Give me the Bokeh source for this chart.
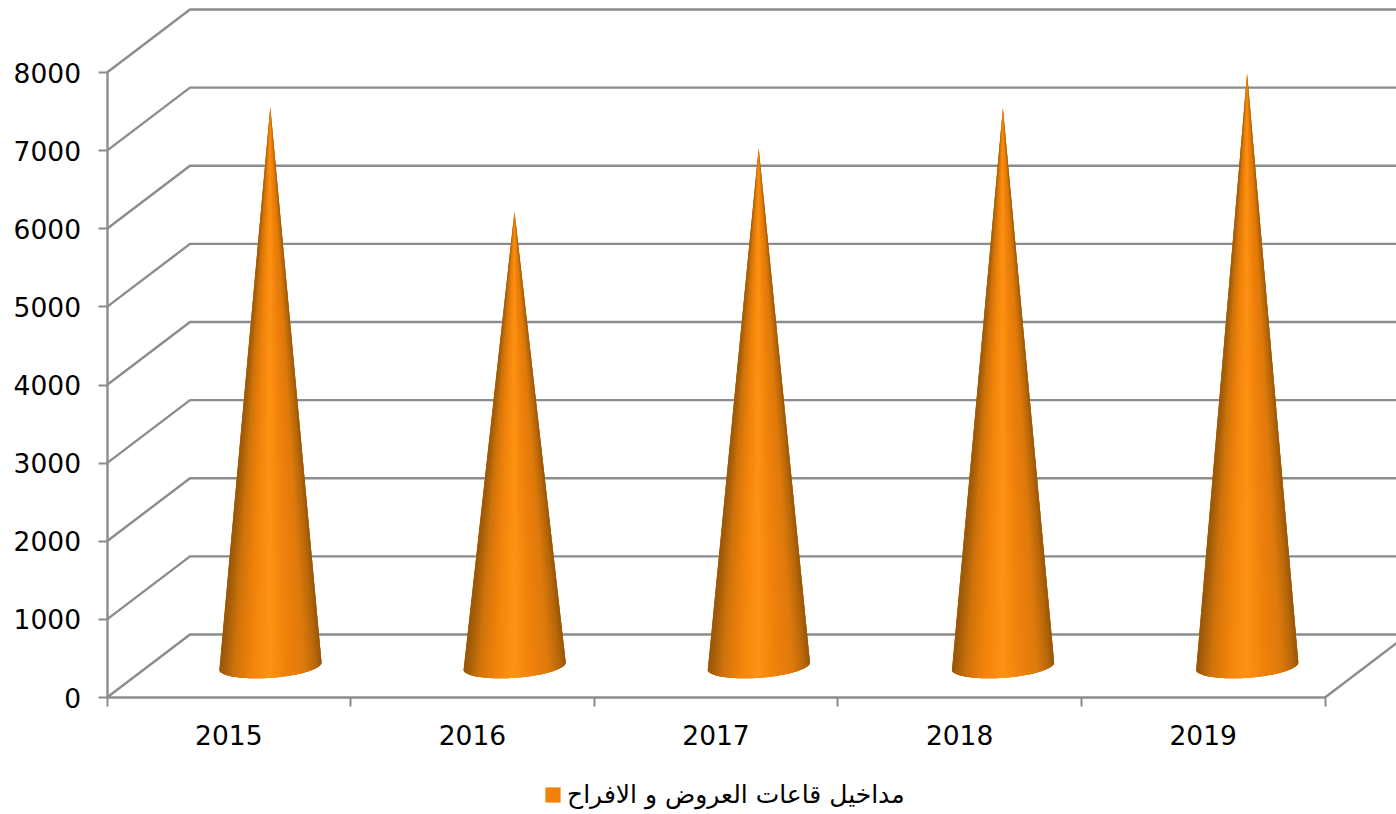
import numpy as np
from bokeh.embed import file_html
from bokeh.resources import INLINE
from bokeh.plotting import figure
from bokeh.models import Range1d, FixedTicker, Legend, LegendItem

# data
years = ["2015", "2016", "2017", "2018", "2019"]
values = [7150, 5815, 6625, 7135, 7580]
y_ticks = [0, 1000, 2000, 3000, 4000, 5000, 6000, 7000, 8000]
series_name = "مداخيل قاعات العروض و الافراح"

# 3D geometry, in data units
PX_X = 243.6
PX_Y = 0.078125
depth_x = 83 / PX_X
depth_y = 63 / PX_Y
cone_step = 244.2 / PX_X
rim_u = (51 / PX_X, 4.5 / PX_Y)
rim_v = (4.5 / PX_X, -11.5 / PX_Y)
GREY = "#8c8c8c"
FONT = "DejaVu Sans"
FS = "26.5px"

stops_t = [0.0, 0.08, 0.2, 0.38, 0.55, 0.72, 0.88, 1.0]
stops_c = [(0x94, 0x54, 0x08), (0xb8, 0x68, 0x0a), (0xdf, 0x7a, 0x0b), (0xf0, 0x82, 0x0b),
           (0xfd, 0x93, 0x14), (0xf2, 0x84, 0x0b), (0xd0, 0x74, 0x0a), (0x98, 0x58, 0x0a)]


def shade(t):
    rgb = [int(np.interp(t, stops_t, [c[i] for c in stops_c])) for i in range(3)]
    return "#%02x%02x%02x" % tuple(rgb)


W, H = 1396, 814
LEFT = 106.5
x_start = -LEFT / PX_X
x_end = (W - LEFT) / PX_X
y_end = 697 / PX_Y
y_start = -(H - 697) / PX_Y

p = figure(width=W, height=H, output_backend="svg", toolbar_location=None,
           x_range=Range1d(x_start, x_end), y_range=Range1d(y_start, y_end),
           min_border_left=0, min_border_right=0, min_border_top=0, min_border_bottom=0)
p.grid.visible = False
p.outline_line_color = None
p.background_fill_color = "white"

# walls and floor
n_cat = len(years)
wall_xs, wall_ys = [], []
for v in y_ticks:
    wall_xs.append([0, depth_x, x_end])
    wall_ys.append([v, v + depth_y, v + depth_y])
wall_xs.append([n_cat, n_cat + depth_x])
wall_ys.append([0, depth_y])
p.multi_line(wall_xs, wall_ys, line_color=GREY, line_width=2.4)

# cones
theta = np.linspace(np.pi, 0, 61)
sil_xs, sil_ys, sl_xs, sl_ys, sl_c = [], [], [], [], []
for i, val in enumerate(values):
    cx = i * cone_step + 0.5 + depth_x / 2
    cy = depth_y / 2
    ex = cx + rim_u[0] * np.cos(theta) + rim_v[0] * np.sin(theta)
    ey = cy + rim_u[1] * np.cos(theta) + rim_v[1] * np.sin(theta)
    top_x, top_y = cx, cy + val
    sil_xs.append([top_x] + list(ex))
    sil_ys.append([top_y] + list(ey))
    for k in range(len(theta) - 1):
        e = min(k + 3, len(theta))
        sl_xs.append([top_x] + list(ex[k:e]))
        sl_ys.append([top_y] + list(ey[k:e]))
        sl_c.append(shade((1 - np.cos((theta[k] + theta[k + 1]) / 2)) / 2))
sil = p.patches(sil_xs, sil_ys, fill_color="#f08209", line_color=None)
p.patches(sl_xs, sl_ys, fill_color=sl_c, line_color=None)

# axes
ax = p.xaxis[0]
ax.fixed_location = 0
ax.ticker = FixedTicker(ticks=[i + 0.5 for i in range(n_cat)], minor_ticks=list(range(n_cat + 1)))
ax.major_label_overrides = {i + 0.5: y for i, y in enumerate(years)}
ax.bounds = (0, n_cat)
ax.major_tick_line_color = None
ax.minor_tick_line_color = GREY
ax.minor_tick_line_width = 2
ax.minor_tick_in = 0
ax.minor_tick_out = 9
ax.axis_line_color = GREY
ax.axis_line_width = 2.4
ax.major_label_text_font = FONT
ax.major_label_text_font_size = FS
ax.major_label_text_color = "#000000"
ax.major_label_standoff = 18

ay = p.yaxis[0]
ay.fixed_location = 0
ay.ticker = FixedTicker(ticks=y_ticks, minor_ticks=[])
ay.bounds = (0, 8000)
ay.major_tick_line_color = GREY
ay.major_tick_line_width = 2
ay.major_tick_in = 0
ay.major_tick_out = 9
ay.axis_line_color = GREY
ay.axis_line_width = 2.4
ay.major_label_text_font = FONT
ay.major_label_text_font_size = FS
ay.major_label_text_color = "#000000"
ay.major_label_standoff = 17

leg = Legend(items=[LegendItem(label=series_name, renderers=[sil])],
             location=(543, 5), orientation="horizontal",
             border_line_color=None, background_fill_alpha=0,
             padding=0, margin=0, spacing=0, glyph_width=19, glyph_height=19,
             label_standoff=5, label_text_font=FONT, label_text_font_size="25px",
             label_text_color="#000000")
p.add_layout(leg, "center")

open("out.html", "w").write(file_html(p, INLINE))
